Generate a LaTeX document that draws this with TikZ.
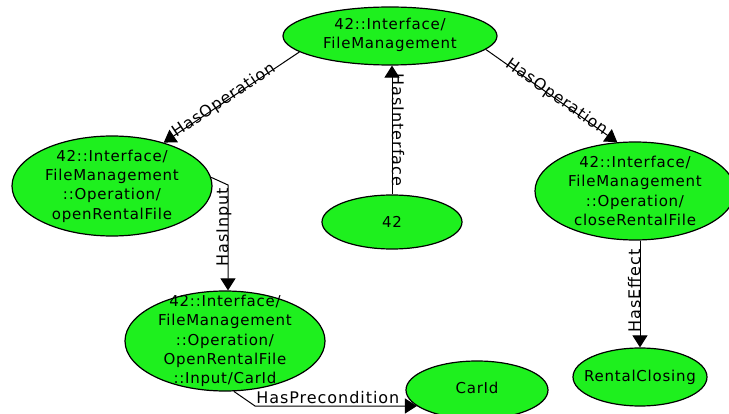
\documentclass[tikz,border=0pt]{standalone}
\usepackage{fontspec}
\setmainfont{DejaVu Sans}
\newfontfamily\nodefont[LetterSpace=5]{DejaVu Sans}
\newfontfamily\edgefont[LetterSpace=6]{DejaVu Sans}
\usetikzlibrary{shapes.geometric,arrows.meta}
\definecolor{blobgreen}{RGB}{30,240,30}
\begin{document}
\begin{tikzpicture}[x=1pt,y=-1pt,
  blob/.style={ellipse, draw=black, line width=1.2pt, fill=blobgreen, inner sep=0pt},
  blobtext/.style={align=center, font=\nodefont\fontsize{15}{19.3}\selectfont, inner sep=0pt},
  rel/.style={draw=black, line width=1pt, -{Triangle[length=12pt,width=15pt]}},
  rellabel/.style={font=\edgefont\fontsize{16}{19}\selectfont, inner sep=0pt},
]
\clip (0,0) rectangle (729,414);
\fill[white] (0,0) rectangle (729,414);

% ellipses
\node[blob, minimum width=214pt, minimum height=58pt]  (top)    at (390,36)  {};
\node[blob, minimum width=200pt, minimum height=100pt] (open)   at (112,186) {};
\node[blob, minimum width=140pt, minimum height=54pt]  (n42)    at (392,222) {};
\node[blob, minimum width=200pt, minimum height=98pt]  (close)  at (635,191) {};
\node[blob, minimum width=200pt, minimum height=100pt] (input)  at (225,341) {};
\node[blob, minimum width=142pt, minimum height=58pt]  (carid)  at (477,390) {};
\node[blob, minimum width=134pt, minimum height=58pt]  (rental) at (640,377) {};

% ellipse texts
\node[blobtext] (top-t)    at (390,35)  {42::Interface/\\FileManagement};
\node[blobtext] (open-t)   at (open)    {42::Interface/\\FileManagement\\::Operation/\\openRentalFile};
\node[blobtext] (n42-t)    at (n42)     {42};
\node[blobtext] (close-t)  at (close)   {42::Interface/\\FileManagement\\::Operation/\\closeRentalFile};
\node[blobtext] (input-t)  at (input)   {42::Interface/\\FileManagement\\::Operation/\\OpenRentalFile\\::Input/CarId};
\node[blobtext] (carid-t)  at (477,388) {CarId};
\node[blobtext] (rental-t) at (rental)  {RentalClosing};

% relations
\draw[rel] (top.190) -- node[rellabel, sloped, anchor=mid, pos=0.55] (l-op1) {HasOperation} (open.40);
\draw[rel] (top.-8) -- node[rellabel, sloped, anchor=mid, pos=0.53] (l-op2) {HasOperation} (close.110);
\draw[rel] (n42.north) -- node[rellabel, rotate=-90, anchor=base, pos=0.5] (l-if) {HasInterface} (n42.north |- top.south);

\coordinate (k1) at (228,185);
\draw[rel] (open.5) -- (k1) -- node[rellabel, rotate=90, anchor=base, pos=0.4] (l-in) {HasInput} (k1 |- input.north);

\draw[rel] (rental.north |- close.south) -- node[rellabel, rotate=90, anchor=base, pos=0.47] (l-ef) {HasEffect} (rental.north);

\coordinate (k2) at (255,406);
\draw[rel] (input.-80) -- (k2) -- node[rellabel, anchor=base, pos=0.45, yshift=3pt] (l-pre) {HasPrecondition} (k2 -| carid.195);
\end{tikzpicture}
\end{document}
